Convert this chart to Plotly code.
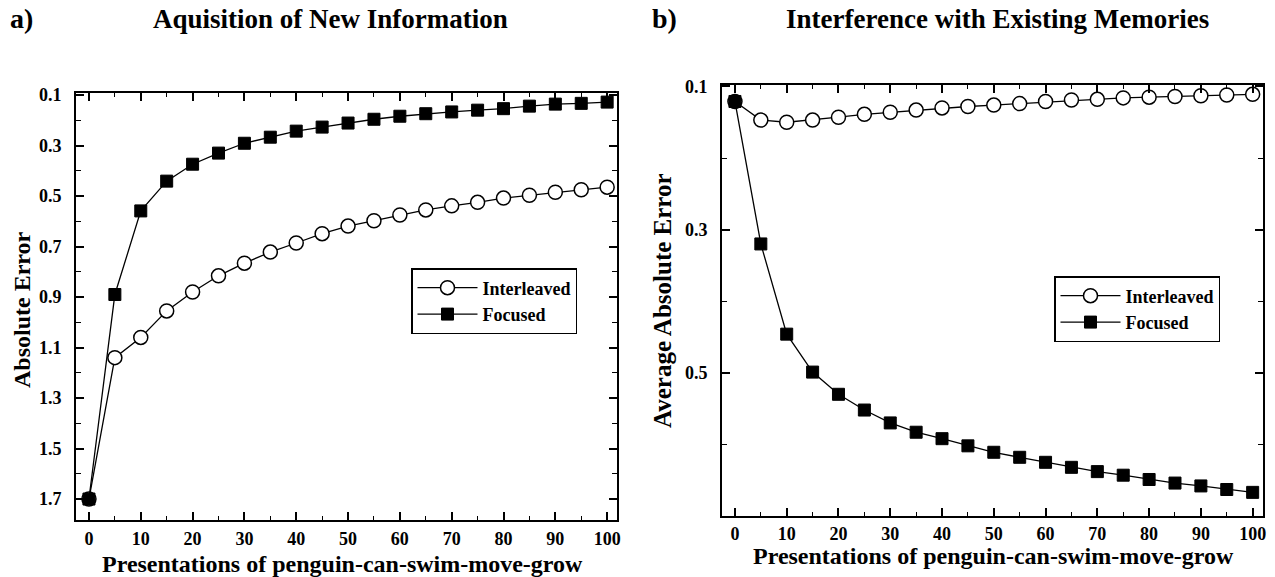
import plotly.graph_objects as go

# ---------------- data ----------------
presentations = [0, 5, 10, 15, 20, 25, 30, 35, 40, 45, 50, 55, 60, 65, 70, 75, 80, 85, 90, 95, 100]

# a) Aquisition of New Information (Absolute Error)
acq_interleaved = [1.70, 1.14, 1.06, 0.955, 0.88, 0.816, 0.766, 0.722, 0.686, 0.649, 0.619,
                   0.598, 0.575, 0.555, 0.539, 0.525, 0.508, 0.497, 0.485, 0.475, 0.465]
acq_focused = [1.70, 0.89, 0.559, 0.441, 0.374, 0.330, 0.291, 0.267, 0.243, 0.227, 0.211,
               0.196, 0.184, 0.174, 0.167, 0.160, 0.154, 0.144, 0.136, 0.133, 0.128]

# b) Interference with Existing Memories (Average Absolute Error)
int_interleaved = [0.121, 0.147, 0.150, 0.147, 0.143, 0.139, 0.136, 0.133, 0.130, 0.128, 0.126,
                   0.124, 0.121, 0.119, 0.118, 0.116, 0.115, 0.114, 0.113, 0.112, 0.111]
int_focused = [0.121, 0.320, 0.446, 0.499, 0.530, 0.552, 0.570, 0.583, 0.592, 0.602, 0.611,
               0.618, 0.625, 0.632, 0.638, 0.643, 0.649, 0.654, 0.658, 0.663, 0.667]

series_names = ["Interleaved", "Focused"]
left_yticks = [0.1, 0.3, 0.5, 0.7, 0.9, 1.1, 1.3, 1.5, 1.7]
right_yticks = [0.1, 0.3, 0.5]
xticks = [0, 10, 20, 30, 40, 50, 60, 70, 80, 90, 100]

# ---------------- figure ----------------
W, H = 1275, 577
FONT = "Liberation Serif"


def px_x(p):
    return p / W


def px_y(p):
    return 1 - p / H


fig = go.Figure()

circle_style = dict(symbol="circle", size=14, color="white", line=dict(color="black", width=1.5))
square_style = dict(symbol="square", size=12, color="black", line=dict(color="black", width=1))
line_style = dict(color="black", width=1.3)

fig.add_trace(go.Scatter(x=presentations, y=acq_interleaved, mode="lines+markers",
                         name=series_names[0], marker=circle_style, line=line_style,
                         xaxis="x", yaxis="y", legend="legend"))
fig.add_trace(go.Scatter(x=presentations, y=acq_focused, mode="lines+markers",
                         name=series_names[1], marker=square_style, line=line_style,
                         xaxis="x", yaxis="y", legend="legend"))
fig.add_trace(go.Scatter(x=presentations, y=int_interleaved, mode="lines+markers",
                         name=series_names[0], marker=dict(circle_style, size=14), line=line_style,
                         xaxis="x2", yaxis="y2", legend="legend2"))
fig.add_trace(go.Scatter(x=presentations, y=int_focused, mode="lines+markers",
                         name=series_names[1], marker=square_style, line=line_style,
                         xaxis="x2", yaxis="y2", legend="legend2"))

tickfont = dict(family=FONT, size=18, color="black", weight="bold")
common_axis = dict(showline=True, linecolor="black", linewidth=2, mirror="ticks",
                   ticks="inside", ticklen=8, tickwidth=1.5, tickcolor="black",
                   showgrid=False, zeroline=False, tickfont=tickfont, automargin=False)

xaxis_common = dict(common_axis, tickvals=xticks, ticktext=[str(v) for v in xticks],
                    minor=dict(dtick=5, tick0=0, ticks="inside", ticklen=4, tickwidth=1.2,
                               tickcolor="black", showgrid=False))

legend_common = dict(xanchor="left", yanchor="top", bordercolor="black", borderwidth=1.5,
                     bgcolor="white", font=dict(family=FONT, size=18, color="black", weight="bold"),
                     itemwidth=60, tracegroupgap=0)

fig.update_layout(
    width=W, height=H,
    margin=dict(l=0, r=0, t=0, b=0),
    paper_bgcolor="white", plot_bgcolor="white",
    font=dict(family=FONT, color="black", weight="bold"),
    xaxis=dict(xaxis_common, domain=[px_x(76), px_x(617)], range=[-2.5, 101.9],
               anchor="y", ticklabelstandoff=1),
    yaxis=dict(common_axis, domain=[px_y(520), px_y(93)], range=[1.783, 0.092],
               anchor="x", tickvals=left_yticks, ticktext=[f"{v:.1f}" for v in left_yticks],
               ticklabelstandoff=9,
               minor=dict(dtick=0.1, tick0=0.1, ticks="inside", ticklen=5, tickwidth=1.2,
                          tickcolor="black", showgrid=False)),
    xaxis2=dict(xaxis_common, domain=[px_x(722), px_x(1263)], range=[-2.5, 102],
                anchor="y2", ticklabelstandoff=0),
    yaxis2=dict(common_axis, domain=[px_y(516), px_y(85)], range=[0.70, 0.098],
                anchor="x2", tickvals=right_yticks, ticktext=[f"{v:.1f}" for v in right_yticks],
                ticklabelstandoff=9,
                minor=dict(dtick=0.1, tick0=0.1, ticks="inside", ticklen=5, tickwidth=1.2,
                           tickcolor="black", showgrid=False)),
    legend=dict(legend_common, x=px_x(411), y=px_y(268)),
    legend2=dict(legend_common, x=px_x(1054), y=px_y(276)),
    showlegend=True,
)

ann_font = lambda s: dict(family=FONT, size=s, color="black", weight="bold")
annotations = [
    dict(text="a)", x=px_x(8), y=px_y(19), xanchor="left", yanchor="middle", font=ann_font(28)),
    dict(text="Aquisition of New Information", x=px_x(330), y=px_y(19), xanchor="center",
         yanchor="middle", font=ann_font(27)),
    dict(text="b)", x=px_x(650), y=px_y(19), xanchor="left", yanchor="middle", font=ann_font(28)),
    dict(text="Interference with Existing Memories", x=px_x(997), y=px_y(19), xanchor="center",
         yanchor="middle", font=ann_font(27)),
    dict(text="Presentations of penguin-can-swim-move-grow", x=px_x(342), y=px_y(564),
         xanchor="center", yanchor="middle", font=ann_font(24)),
    dict(text="Presentations of penguin-can-swim-move-grow", x=px_x(993), y=px_y(556),
         xanchor="center", yanchor="middle", font=ann_font(24)),
    dict(text="Absolute Error", x=px_x(22), y=px_y(310), xanchor="center", yanchor="middle",
         textangle=-90, font=ann_font(24)),
    dict(text="Average Absolute Error", x=px_x(662), y=px_y(300), xanchor="center",
         yanchor="middle", textangle=-90, font=ann_font(25)),
]
for a in annotations:
    a.update(xref="paper", yref="paper", showarrow=False)
fig.update_layout(annotations=annotations)

fig.write_html(
    "out.html",
    config={"displayModeBar": False},
    post_script="document.body.style.margin='0';document.body.style.overflow='hidden';",
)
